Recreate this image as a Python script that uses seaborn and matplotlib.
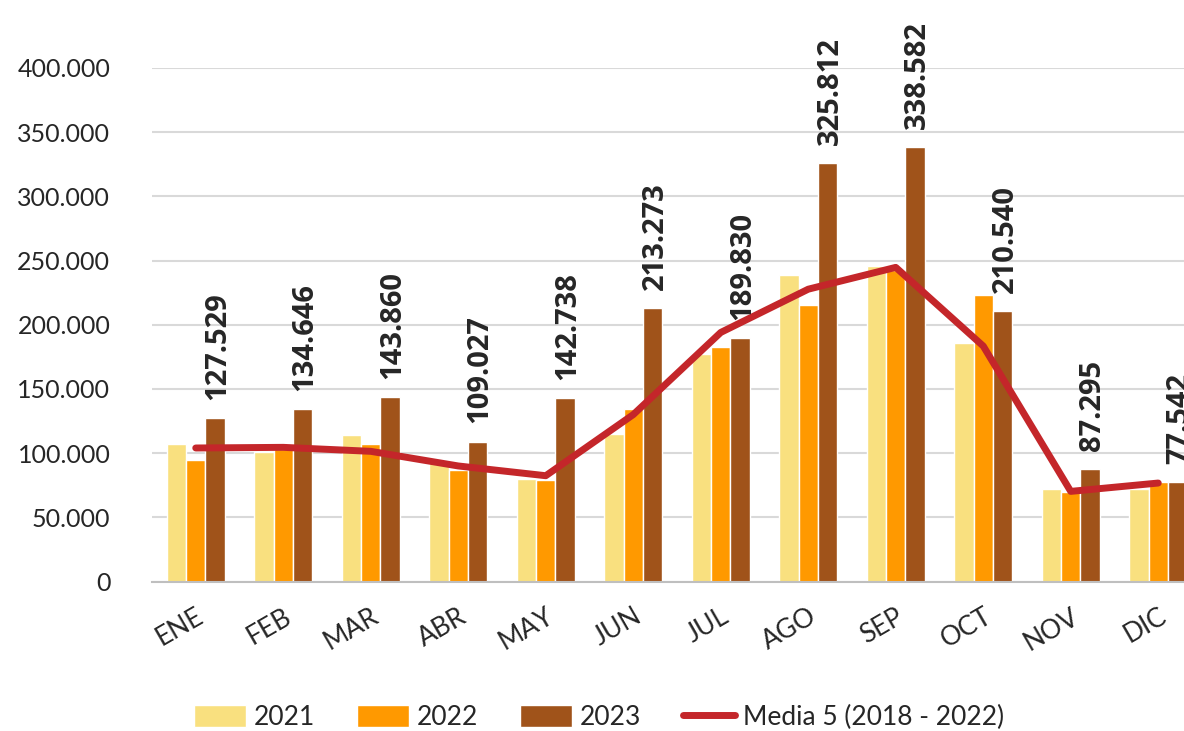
import numpy as np
import pandas as pd
import matplotlib
matplotlib.use("Agg")
import matplotlib.pyplot as plt
import matplotlib.ticker as mticker
import seaborn as sns

# Monthly values
months = ["ENE", "FEB", "MAR", "ABR", "MAY", "JUN",
          "JUL", "AGO", "SEP", "OCT", "NOV", "DIC"]
v2021 = [107400, 101000, 114500, 95000, 80000, 115000,
         177000, 239000, 245500, 185500, 72300, 72000]
v2022 = [94400, 103000, 107400, 87000, 78800, 134000,
         182700, 215000, 243000, 223300, 70000, 77200]
v2023 = [127529, 134646, 143860, 109027, 142738, 213273,
         189830, 325812, 338582, 210540, 87295, 77542]
media5 = [104000, 104500, 101400, 90000, 82400, 130000,
          194000, 227700, 244700, 183400, 70200, 76700]
years = ["2021", "2022", "2023"]
colors = ["#F9E07F", "#FF9900", "#A0531A"]

df = pd.DataFrame({
    "mes": months * 3,
    "anio": [y for y in years for _ in months],
    "valor": v2021 + v2022 + v2023,
})

sns.set_style("white")
plt.rcParams["font.family"] = ["Lato", "DejaVu Sans"]

fig = plt.figure(figsize=(11.84, 7.31), dpi=100)
ax = fig.add_axes([152 / 1184, 149.5 / 731, 1050 / 1184, 513.5 / 731])

sns.barplot(
    data=df, x="mes", y="valor", hue="anio",
    palette=colors, width=0.66, gap=0, saturation=1,
    ax=ax, legend=True
)
ax.plot(np.arange(len(months)), media5, color="#C4262A", lw=5,
        solid_capstyle="round", solid_joinstyle="round",
        label="Media 5 (2018 - 2022)", zorder=5)

# Value labels on 2023 bars
bars_2023 = ax.containers[2]
for rect, val in zip(bars_2023, v2023):
    ax.annotate(f"{val:,}".replace(",", "."),
                (rect.get_x() + rect.get_width() / 2 + 0.03, val),
                xytext=(0, 13), textcoords="offset points",
                rotation=90, ha="center", va="bottom",
                fontsize=21, fontweight="bold", color="#262626",
                family=["Open Sans", "DejaVu Sans"],
                annotation_clip=False, zorder=6)

ax.set_ylim(0, 400000)
ax.set_xlim(-0.5, 11.5)
ax.yaxis.set_major_locator(mticker.MultipleLocator(50000))
ax.yaxis.set_major_formatter(
    mticker.FuncFormatter(lambda v, p: f"{int(v):,}".replace(",", ".")))
ax.grid(axis="y", color="#D9D9D9", lw=1.5)
ax.set_axisbelow(True)
for s in ["top", "right", "left"]:
    ax.spines[s].set_visible(False)
ax.spines["bottom"].set_color("#BFBFBF")
ax.spines["bottom"].set_linewidth(1.5)
ax.set_xlabel("")
ax.set_ylabel("")
ax.tick_params(axis="y", labelsize=18, labelcolor="#262626", length=0, pad=30)
ax.tick_params(axis="x", labelsize=19, labelcolor="#262626", length=0, pad=16)
plt.setp(ax.get_xticklabels(), rotation=30, ha="right", rotation_mode="anchor")

handles, labels = ax.get_legend_handles_labels()
ax.get_legend().remove()
fig.legend(handles, labels, loc="center", bbox_to_anchor=(0.506, 0.018),
           ncol=4, frameon=False, fontsize=19, handlelength=1.95,
           handleheight=0.9, columnspacing=1.6, handletextpad=0.3,
           labelcolor="#262626")

fig.savefig("out.png", dpi=100)
